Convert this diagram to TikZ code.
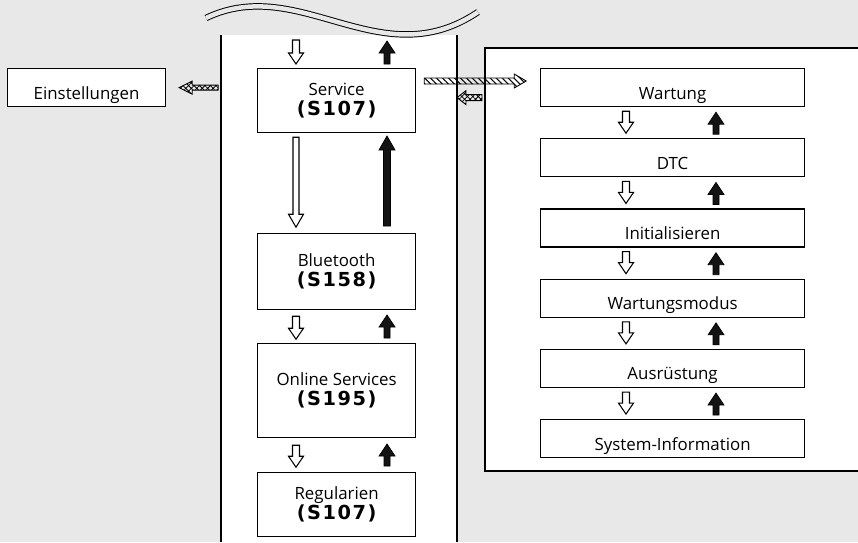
\documentclass[tikz,border=0pt]{standalone}
\usepackage{fontspec}
\setmainfont{Open Sans}
\newfontfamily\codefont[LetterSpace=8]{DejaVu Sans}
\usepackage{tikz}
\usetikzlibrary{positioning, calc, patterns.meta}
\definecolor{panelgray}{RGB}{232,232,232}
\definecolor{arrowblack}{RGB}{20,20,20}
\newcommand{\scode}[1]{{\codefont\bfseries\fontsize{11}{12}\selectfont #1}}
\tikzset{
  menubox/.style={rectangle, draw=black, fill=white, line width=0.7pt,
    anchor=north west, minimum width=3.16cm, inner sep=0pt, align=center,
    font=\fontsize{9.6}{11.5}\selectfont},
  listbox/.style={rectangle, draw=black, fill=white, line width=0.7pt,
    anchor=north west, minimum width=5.28cm, minimum height=0.76cm,
    inner sep=0pt, text height=13pt, text depth=0pt,
    font=\fontsize{9.6}{11.5}\selectfont},
  panel/.style={line width=0.7pt, color=black},
  hollowarrow/.style={draw=black, fill=white, line width=0.6pt},
  solidarrow/.style={draw=black, fill=arrowblack, line width=0.4pt},
  checkarrow/.style={draw=black, line width=0.5pt,
    pattern={Hatch[distance=2.2pt, angle=45, line width=0.45pt]}},
  stripearrow/.style={draw=black, line width=0.5pt,
    pattern={Lines[distance=2.4pt, angle=-45, line width=0.6pt]}},
  % block arrow: length, shaft half, head half, head length
  pics/barrow/.style n args={4}{code={
    \path[pic actions] (0,-#2) -- ({#1-#4},-#2) -- ({#1-#4},-#3) -- (#1,0)
      -- ({#1-#4},#3) -- ({#1-#4},#2) -- (0,#2) -- cycle;
  }}
}

\begin{document}
\begin{tikzpicture}[x=0.02cm, y=-0.02cm]
  % background and panels
  \fill[panelgray] (0,0) rectangle (858,542);
  \useasboundingbox (0,0) rectangle (858,542);
  \fill[white] (221,35) rectangle (457,542);
  \draw[panel] (221,35) -- (221,542);
  \draw[panel] (457,35) -- (457,542);
  \fill[white] (485,48) rectangle (858,471);
  \draw[panel, line width=0.9pt] (858,48) -- (485,48) -- (485,471) -- (858,471);
  % cut mark
  \draw[line width=0.55pt, double=panelgray, double distance=0.09cm]
    (206,18) .. controls (300,-27) and (380,78) .. (478,12);

  % centre column
  \node[menubox, minimum height=1.28cm] (serv) at (257,68)
    {Service\\\scode{(S107)}};
  \node[menubox, minimum height=1.52cm] (blue) at (257,233)
    {Bluetooth\\\scode{(S158)}};
  \node[menubox, minimum height=1.88cm] (onl) at (257,343)
    {Online Services\\\scode{(S195)}};
  \node[menubox, minimum height=1.28cm] (reg) at (257,472)
    {Regularien\\\scode{(S107)}};
  \node[listbox, minimum width=3.16cm] (einst) at (7,68) {Einstellungen};

  % right column
  \node[listbox] (r1) at (540,68) {Wartung};
  \foreach \i/\j/\t in {2/1/DTC, 3/2/Initialisieren, 4/3/Wartungsmodus,
                         5/4/Ausrüstung, 6/5/System-Information}
    \node[listbox, below=0.62cm of r\j] (r\i) {\t};

  \foreach \j/\i in {1/2, 2/3, 3/4, 4/5, 5/6} {
    \pic[hollowarrow, rotate=-90] at ($(r\j.south west)+(86,4)$) {barrow={22}{3.5}{7.5}{11}};
    \pic[solidarrow, rotate=90] at ($(r\i.north west)+(176,-4)$) {barrow={22}{3}{8}{12}};
  }

  % centre arrows
  \pic[hollowarrow, rotate=-90] at ($(serv.north west)+(39,-28)$) {barrow={24}{3.5}{7.5}{11}};
  \pic[solidarrow, rotate=90] at ($(serv.north west)+(130,-4)$) {barrow={23}{3}{8}{12}};
  \pic[hollowarrow, rotate=-90] at ($(serv.south west)+(39,4)$) {barrow={90}{3}{7.5}{13}};
  \pic[solidarrow, rotate=90] at ($(blue.north west)+(130,-7)$) {barrow={90}{3.5}{8}{14}};
  \pic[hollowarrow, rotate=-90] at ($(blue.south west)+(39,6)$) {barrow={23}{3.5}{7.5}{11}};
  \pic[solidarrow, rotate=90] at ($(onl.north west)+(130,-5)$) {barrow={23}{3}{8}{12}};
  \pic[hollowarrow, rotate=-90] at ($(onl.south west)+(39,7)$) {barrow={22}{3.5}{7.5}{11}};
  \pic[solidarrow, rotate=90] at ($(reg.north west)+(130,-6)$) {barrow={22}{3}{8}{12}};

  % hatched arrows
  \pic[checkarrow, rotate=180] at ($(einst.east)+(52,0)$) {barrow={39}{2.5}{6.5}{13}};
  \pic[stripearrow] at ($(serv.north east)+(8,13)$) {barrow={102}{3}{7}{12}};
  \pic[checkarrow, rotate=180] at ($(r1.west)+(-58,10)$) {barrow={25}{3}{7}{9}};
\end{tikzpicture}
\end{document}
